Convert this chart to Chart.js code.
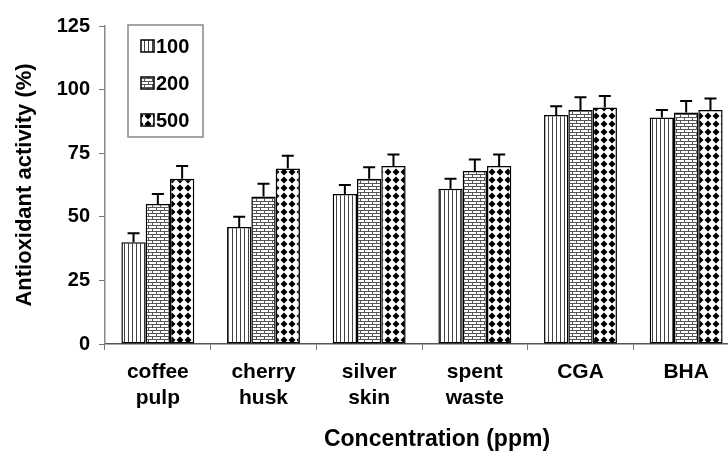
<!DOCTYPE html>
<html>
<head>
<meta charset="utf-8">
<script src="https://cdn.jsdelivr.net/npm/chart.js@4/dist/chart.umd.min.js"></script>
<style>
  html, body { margin: 0; padding: 0; background: #fff; overflow: hidden; }
  #wrap { width: 745px; height: 456px; position: relative; }
</style>
</head>
<body>
<div id="wrap"><canvas id="chart"></canvas></div>
<script>
// data
const categories = [['coffee', 'pulp'], ['cherry', 'husk'], ['silver', 'skin'], ['spent', 'waste'], 'CGA', 'BHA'];
const seriesNames = ['100', '200', '500'];
const v100 = [40, 46, 59, 61, 90, 89];
const v200 = [55, 58, 65, 68, 92, 91];
const v500 = [65, 69, 70, 70, 93, 92];
const e100 = [3.5, 4, 3.5, 4, 3.5, 3];
const e200 = [4, 5, 4.5, 4.5, 5, 4.5];
const e500 = [5, 5, 4.5, 4.5, 4.5, 4.5];
const yTicks = [0, 25, 50, 75, 100, 125];

const FONT = "'Liberation Sans', Arial, sans-serif";

// hatch patterns
function makePattern(w, h, draw) {
    const c = document.createElement('canvas');
    c.width = w; c.height = h;
    const g = c.getContext('2d');
    g.fillStyle = '#fff';
    g.fillRect(0, 0, w, h);
    draw(g);
    return g.createPattern(c, 'repeat');
}
const patStripes = makePattern(4, 4, g => {
    g.fillStyle = '#444';
    g.fillRect(0, 0, 1, 4);
});
const patBrick = makePattern(8, 6, g => {
    g.fillStyle = '#555';
    g.fillRect(0, 0, 8, 1);
    g.fillRect(0, 3, 8, 1);
    g.fillRect(0, 0, 1, 3);
    g.fillRect(4, 3, 1, 3);
});
const patDots = makePattern(8, 8, g => {
    g.fillStyle = '#000';
    g.beginPath();
    g.moveTo(4, 0.5); g.lineTo(7.5, 4); g.lineTo(4, 7.5); g.lineTo(0.5, 4);
    g.closePath();
    g.fill();
});

const patterns = [patStripes, patBrick, patDots];
const values = [v100, v200, v500];
const errors = [e100, e200, e500];

const errorBars = {
    id: 'errorBars',
    afterDatasetsDraw(chart) {
        const ctx = chart.ctx;
        const y = chart.scales.y;
        ctx.save();
        ctx.strokeStyle = '#000';
        ctx.lineWidth = 2;
        chart.data.datasets.forEach((ds, di) => {
            const meta = chart.getDatasetMeta(di);
            meta.data.forEach((bar, i) => {
                const top = y.getPixelForValue(ds.data[i]);
                const cap = y.getPixelForValue(ds.data[i] + errors[di][i]);
                ctx.beginPath();
                ctx.moveTo(bar.x, top);
                ctx.lineTo(bar.x, cap);
                ctx.moveTo(bar.x - 6, cap);
                ctx.lineTo(bar.x + 6, cap);
                ctx.stroke();
            });
        });
        ctx.restore();
    }
};

const extras = {
    id: 'extras',
    afterDraw(chart) {
        const ctx = chart.ctx;
        ctx.save();
        // legend box
        ctx.strokeStyle = '#888';
        ctx.lineWidth = 1.5;
        ctx.strokeRect(128, 25, 75, 112);
        ctx.font = 'bold 20px ' + FONT;
        ctx.textBaseline = 'middle';
        seriesNames.forEach((name, i) => {
            const cy = 46 + i * 37;
            ctx.fillStyle = patterns[i];
            ctx.fillRect(141, cy - 6, 13, 12);
            ctx.strokeStyle = '#000';
            ctx.lineWidth = 1.5;
            ctx.strokeRect(141, cy - 6, 13, 12);
            ctx.fillStyle = '#000';
            ctx.fillText(name, 156, cy + 1);
        });
        // x axis title
        ctx.font = 'bold 23px ' + FONT;
        ctx.textAlign = 'center';
        ctx.fillText('Concentration (ppm)', 437, 440);
        ctx.restore();
    }
};

new Chart(document.getElementById('chart'), {
    type: 'bar',
    data: {
        labels: categories,
        datasets: seriesNames.map((name, i) => ({
            label: name,
            data: values[i],
            backgroundColor: patterns[i],
            borderColor: '#000',
            borderWidth: 1.5,
            borderSkipped: false
        }))
    },
    options: {
        responsive: true,
        maintainAspectRatio: false,
        animation: false,
        layout: { padding: { top: 26, right: 6, left: 0, bottom: 0 } },
        plugins: {
            legend: { display: false },
            tooltip: { enabled: false }
        },
        datasets: {
            bar: { categoryPercentage: 0.69, barPercentage: 1.0 }
        },
        scales: {
            x: {
                grid: { drawOnChartArea: false, tickLength: 6, color: '#777', offset: true },
                border: { color: '#555', width: 1.5 },
                ticks: {
                    color: '#000',
                    padding: 10,
                    maxRotation: 0,
                    font: { family: FONT, size: 21, weight: 'bold', lineHeight: 1.2 }
                },
                afterFit(scale) { scale.height = 112; }
            },
            y: {
                min: 0,
                max: 125,
                afterBuildTicks(scale) { scale.ticks = yTicks.map(v => ({ value: v })); },
                grid: { drawOnChartArea: false, tickLength: 6, color: '#777' },
                border: { color: '#888', width: 1.5 },
                ticks: {
                    color: '#000',
                    padding: 9,
                    font: { family: FONT, size: 20, weight: 'bold' }
                },
                title: {
                    display: true,
                    text: 'Antioxidant activity (%)',
                    color: '#000',
                    padding: { top: 12, bottom: 0 },
                    font: { family: FONT, size: 22, weight: 'bold' }
                },
                afterFit(scale) { scale.width = 105; }
            }
        }
    },
    plugins: [errorBars, extras]
});
</script>
</body>
</html>
